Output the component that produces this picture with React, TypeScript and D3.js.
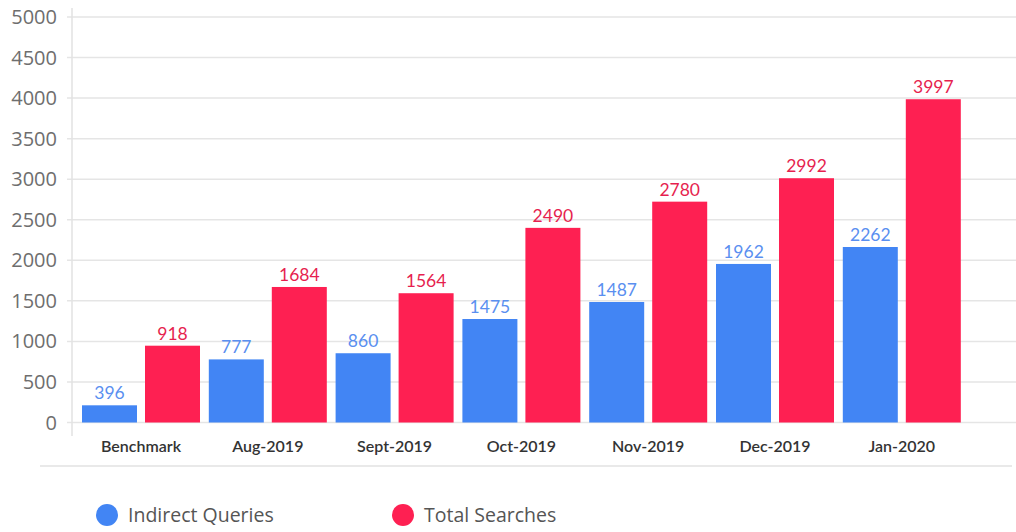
import React from "react";
import * as d3 from "d3";

const categories = ["Benchmark", "Aug-2019", "Sept-2019", "Oct-2019", "Nov-2019", "Dec-2019", "Jan-2020"];
const seriesNames = ["Indirect Queries", "Total Searches"];
const indirectValues = [212, 778, 854, 1276, 1486, 1955, 2164];
const totalValues = [947, 1671, 1594, 2400, 2723, 3012, 3986];
const indirectLabels = ["396", "777", "860", "1475", "1487", "1962", "2262"];
const totalLabels = ["918", "1684", "1564", "2490", "2780", "2992", "3997"];
const yTicks = [0, 500, 1000, 1500, 2000, 2500, 3000, 3500, 4000, 4500, 5000];

const W = 1016;
const H = 532;
const BLUE = "#4285f4";
const RED = "#fe2052";
const BLUE_TXT = "#5a8ff0";
const RED_TXT = "#e61f4f";

export default function App() {
  const y = d3.scaleLinear().domain([0, 5000]).range([422.5, 17]);
  const x0 = d3.scaleBand<string>().domain(categories).range([77.6, 965.2]).paddingInner(0.0694).paddingOuter(0.0347);
  const x1 = d3.scaleBand<string>().domain(seriesNames).range([0, x0.bandwidth()]).paddingInner(0.127);
  const series = [
    { name: seriesNames[0], values: indirectValues, labels: indirectLabels, color: BLUE, txt: BLUE_TXT },
    { name: seriesNames[1], values: totalValues, labels: totalLabels, color: RED, txt: RED_TXT },
  ];
  const font = "Lato, 'Open Sans', sans-serif";
  return (
    <div style={{ position: "absolute", left: 0, top: 0 }}>
      <svg width={W} height={H} style={{ display: "block", background: "#fff" }} fontFamily={font}>
        {yTicks.map((t) => (
          <g key={t}>
            <line x1={67} x2={1016} y1={y(t)} y2={y(t)} stroke="#e5e5e5" strokeWidth={1.5} />
            <text x={57} y={y(t) + 7} textAnchor="end" fontSize={20} fill="#6e6e6e" fontFamily="'Open Sans', sans-serif">
              {t}
            </text>
          </g>
        ))}
        <line x1={72} x2={72} y1={8} y2={436} stroke="#e2e2e2" strokeWidth={1.5} />
        {categories.map((c, i) => (
          <g key={c}>
            {series.map((s) => {
              const bx = (x0(c) as number) + (x1(s.name) as number);
              const by = y(s.values[i]);
              return (
                <g key={s.name}>
                  <rect x={bx} y={by} width={x1.bandwidth()} height={y(0) - by} fill={s.color} />
                  <text x={bx + x1.bandwidth() / 2} y={by - 6} textAnchor="middle" fontSize={17.5} fill={s.txt}>
                    {s.labels[i]}
                  </text>
                </g>
              );
            })}
            <text
              x={(x0(c) as number) + x0.bandwidth() / 2}
              y={451.5}
              textAnchor="middle"
              fontSize={16}
              fontWeight={600}
              fill="#333"
            >
              {c}
            </text>
          </g>
        ))}
        <line x1={40} x2={1012} y1={466} y2={466} stroke="#e2e2e2" strokeWidth={1.5} />
        {series.map((s, i) => {
          const lx = [107, 403][i];
          return (
            <g key={s.name}>
              <circle cx={lx} cy={515} r={11} fill={s.color} />
              <text x={lx + 21} y={521.5} fontSize={19.5} fill="#555" fontFamily="'Open Sans', sans-serif">
                {s.name}
              </text>
            </g>
          );
        })}
      </svg>
    </div>
  );
}
